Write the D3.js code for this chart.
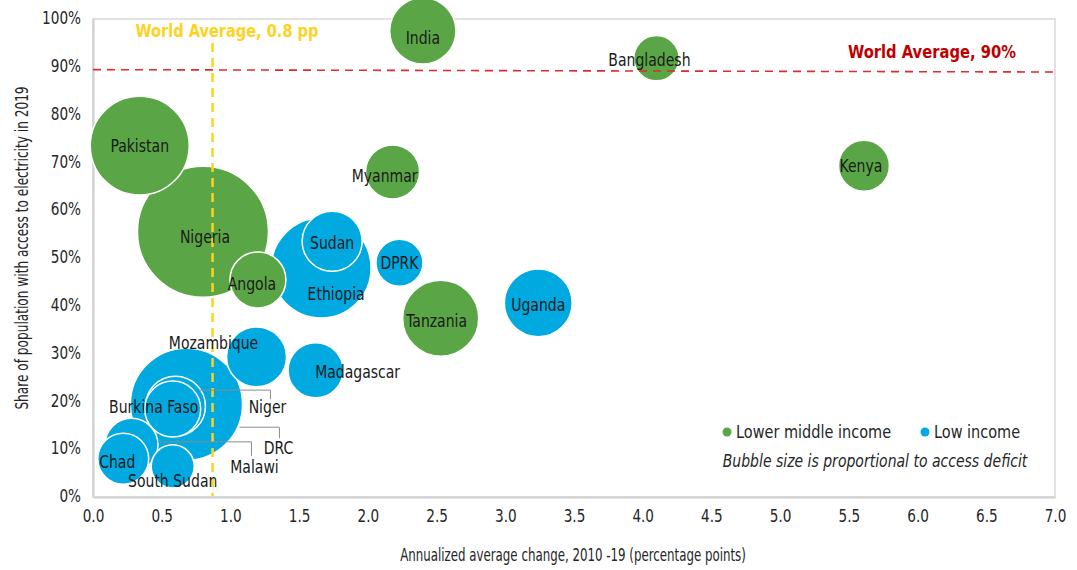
<!DOCTYPE html>
<html>
<head>
<meta charset="utf-8">
<script src="https://cdn.jsdelivr.net/npm/d3@7"></script>
<style>
  body { margin: 0; background: #fff; }
  svg text { font-family: "Liberation Sans Narrow", "DejaVu Sans Condensed", "Arial Narrow", sans-serif; fill: #262626; }
</style>
</head>
<body>
<div id="chart"></div>
<script>
// chart data
const countries = ["Nigeria", "DRC", "Ethiopia", "Pakistan", "Tanzania", "Uganda", "India",
  "Sudan", "Mozambique", "Niger", "Burkina Faso", "Angola", "Madagascar", "Myanmar",
  "Malawi", "Chad", "Kenya", "DPRK", "Bangladesh", "South Sudan"];
const incomeGroup = ["lmi", "low", "low", "lmi", "lmi", "low", "lmi",
  "low", "low", "low", "low", "lmi", "low", "lmi",
  "low", "low", "lmi", "low", "lmi", "low"];
// annualized average change 2010-19, percentage points
const changePP = [0.80, 0.68, 1.66, 0.34, 2.53, 3.24, 2.40,
  1.74, 1.19, 0.60, 0.58, 1.20, 1.62, 2.18,
  0.28, 0.22, 5.61, 2.23, 4.10, 0.58];
// share of population with access, 2019 (%)
const accessShare = [55.3, 19.2, 47.7, 73.3, 37.2, 40.4, 97.3,
  53.3, 29.1, 18.8, 18.2, 45.2, 26.3, 67.8,
  10.7, 7.8, 69.1, 48.8, 91.6, 6.2];
// access deficit (million people), drives bubble size
const deficit = [86, 63, 50, 49, 29, 23, 22,
  18, 18, 18, 15.7, 15.7, 15.2, 14.6,
  14.1, 13, 13, 11.1, 10.3, 9.3];

const xTicks = [0, 0.5, 1, 1.5, 2, 2.5, 3, 3.5, 4, 4.5, 5, 5.5, 6, 6.5, 7];
const yTicks = [0, 10, 20, 30, 40, 50, 60, 70, 80, 90, 100];
const worldAvgChange = 0.87;
const worldAvgAccess = [89.2, 88.7]; // line drifts slightly in the original

// label placement (pixel offsets from bubble centre) and leader lines
const labelPos = {
  "Nigeria": [2, 5], "India": [0, 7], "Bangladesh": [-7, 2], "Kenya": [-3, 0],
  "Myanmar": [-8, 4], "Tanzania": [-4, 3], "Angola": [-6, 4], "Ethiopia": [15, 26],
  "Sudan": [0, 2], "Uganda": [0, 2], "Madagascar": [42, 2], "Mozambique": [-43, -14],
  "DRC": [92, 44], "Niger": [92, 1], "Burkina Faso": [-19, -2], "Malawi": [123, 22],
  "Chad": [-6, 3], "South Sudan": [0, 15]
};
const leaders = {
  "Niger": [[23, -16], [95, -16], [95, -7]],
  "DRC": [[53, 23], [93, 23], [93, 34]],
  "Malawi": [[26, -3], [120, -3], [120, 11]]
};

const colors = { lmi: "#5aa646", low: "#00a9e0" };

const W = 1077, H = 570;
const margin = { top: 19, right: 22, bottom: 73, left: 93 };

// the original uses a condensed face; narrow the fallback glyphs to match
function squeeze(sel, f) {
  sel.each(function() {
    const len = this.getComputedTextLength();
    d3.select(this).attr("textLength", len * f).attr("lengthAdjust", "spacingAndGlyphs");
  });
}

const svg = d3.select("#chart").append("svg")
  .attr("width", W).attr("height", H);

const x = d3.scaleLinear().domain([0, 7]).range([margin.left, W - margin.right]);
const y = d3.scaleLinear().domain([0, 100]).range([H - margin.bottom - 1, margin.top - 1]);
const r = d3.scaleSqrt().domain([0, 86]).range([0, 65.5]);

// frame
svg.append("rect")
  .attr("x", x(0)).attr("y", y(100) + 1)
  .attr("width", x(7) - x(0)).attr("height", y(0) - y(100))
  .attr("fill", "none").attr("stroke", "#d9d9d9").attr("stroke-width", 1.5);

// axes
const xAxis = svg.append("g")
  .attr("transform", `translate(0,${y(0) + 1})`)
  .call(d3.axisBottom(x).tickValues(xTicks).tickFormat(d3.format(".1f")).tickSize(0).tickPadding(12));
const yAxis = svg.append("g")
  .attr("transform", `translate(${x(0)},0)`)
  .call(d3.axisLeft(y).tickValues(yTicks).tickFormat(d => d + "%").tickSize(0).tickPadding(12));
[xAxis, yAxis].forEach(g => {
  g.select(".domain").attr("stroke", "#d0d0d0").attr("stroke-width", 2);
  g.selectAll("text").style("font-size", "18px").attr("fill", "#333").call(squeeze, 0.84);
});

svg.append("text")
  .attr("x", 573).attr("y", 561)
  .attr("text-anchor", "middle")
  .style("font-size", "18px")
  .text("Annualized average change, 2010 -19 (percentage points)")
  .call(squeeze, 0.73);
svg.append("text")
  .attr("transform", `translate(28,${248}) rotate(-90)`)
  .attr("text-anchor", "middle")
  .style("font-size", "18px")
  .text("Share of population with access to electricity in 2019")
  .call(squeeze, 0.75);

// bubbles
const data = countries.map((c, i) => ({
  name: c, group: incomeGroup[i], x: changePP[i], y: accessShare[i], size: deficit[i]
}));
const sorted = data.slice().sort((a, b) => b.size - a.size);

const plot = svg.append("g");
plot.selectAll("circle.bubble")
  .data(sorted)
  .enter().append("circle")
  .attr("class", "bubble")
  .attr("cx", d => x(d.x))
  .attr("cy", d => y(d.y))
  .attr("r", d => r(d.size))
  .attr("fill", d => colors[d.group])
  .attr("stroke", "#fff")
  .attr("stroke-width", 1.5);

// reference lines
svg.append("line")
  .attr("x1", x(worldAvgChange)).attr("x2", x(worldAvgChange))
  .attr("y1", 43).attr("y2", y(0))
  .attr("stroke", "#ffd21f").attr("stroke-width", 2.5)
  .attr("stroke-dasharray", "9,6");
svg.append("line")
  .attr("x1", x(0)).attr("x2", x(7))
  .attr("y1", y(worldAvgAccess[0])).attr("y2", y(worldAvgAccess[1]))
  .attr("stroke", "#dc2b32").attr("stroke-width", 1.6)
  .attr("stroke-dasharray", "8,6");

svg.append("text")
  .attr("x", 227).attr("y", 37)
  .attr("text-anchor", "middle")
  .style("font-size", "18px").style("font-weight", "bold")
  .style("fill", "#ffd21f")
  .text("World Average, 0.8 pp")
  .call(squeeze, 0.9);
svg.append("text")
  .attr("x", 932).attr("y", 58)
  .attr("text-anchor", "middle")
  .style("font-size", "18px").style("font-weight", "bold")
  .style("fill", "#c00000")
  .text("World Average, 90%")
  .call(squeeze, 0.91);

// leader lines
const byName = {};
data.forEach(d => byName[d.name] = d);
Object.keys(leaders).forEach(n => {
  const d = byName[n];
  svg.append("path")
    .attr("d", d3.line()(leaders[n].map(p => [x(d.x) + p[0], y(d.y) + p[1]])))
    .attr("fill", "none").attr("stroke", "#8c8c8c").attr("stroke-width", 1);
});

// labels
svg.selectAll("text.lbl")
  .data(data)
  .enter().append("text")
  .attr("class", "lbl")
  .attr("x", d => x(d.x) + (labelPos[d.name] || [0, 0])[0])
  .attr("y", d => y(d.y) + (labelPos[d.name] || [0, 0])[1])
  .attr("dy", "0.35em")
  .attr("text-anchor", "middle")
  .style("font-size", "17.5px")
  .style("fill", "#1a1a1a")
  .text(d => d.name)
  .call(squeeze, 0.89);

// legend
const legend = svg.append("g");
const legendItems = [["lmi", "Lower middle income", 727], ["low", "Low income", 925]];
legendItems.forEach(([k, label, lx]) => {
  legend.append("circle").attr("cx", lx).attr("cy", 432).attr("r", 4.5).attr("fill", colors[k]);
  legend.append("text").attr("x", lx + 9).attr("y", 432).attr("dy", "0.35em")
    .style("font-size", "17.5px").text(label).call(squeeze, 0.92);
});
legend.append("text")
  .attr("x", 875).attr("y", 461).attr("dy", "0.35em")
  .attr("text-anchor", "middle")
  .style("font-size", "17.5px").style("font-style", "italic")
  .text("Bubble size is proportional to access deficit")
  .call(squeeze, 0.89);
</script>
</body>
</html>
